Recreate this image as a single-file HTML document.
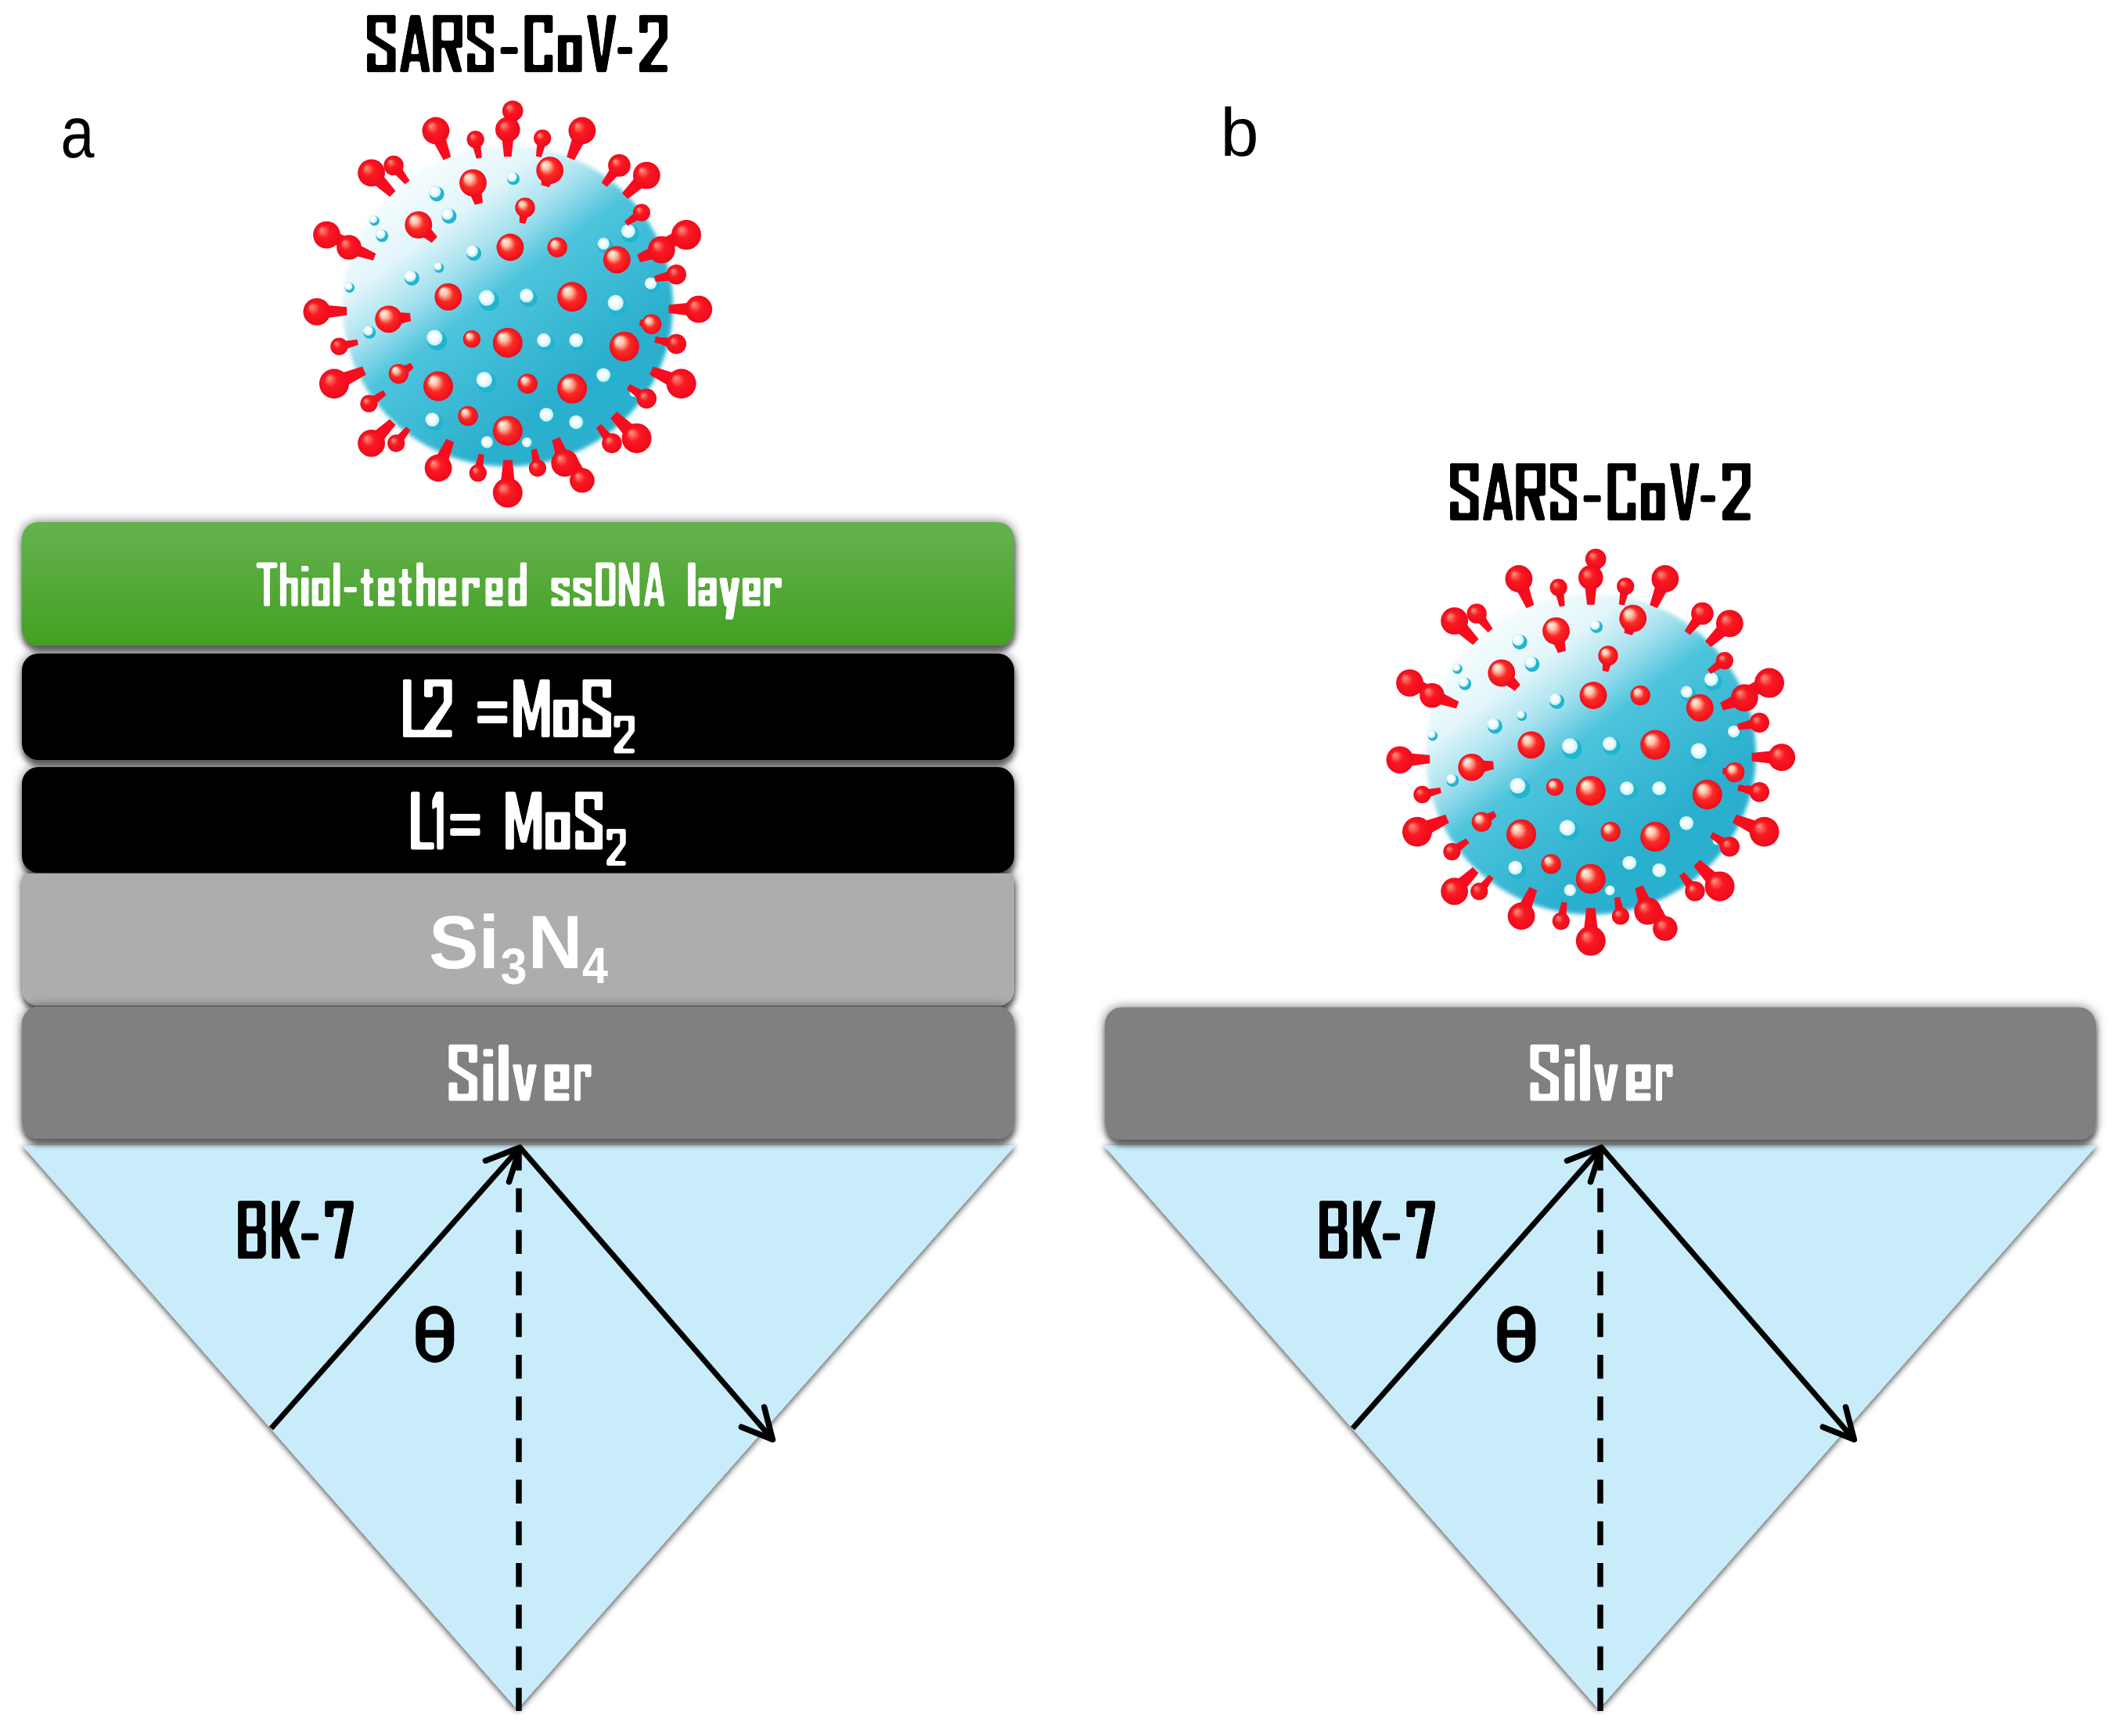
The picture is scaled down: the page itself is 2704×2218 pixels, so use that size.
<!DOCTYPE html>
<html><head><meta charset="utf-8"><style>
html,body{margin:0;padding:0;background:#fff;width:2704px;height:2218px;overflow:hidden}
svg{display:block}
text{font-family:"Liberation Sans",sans-serif}
</style></head><body>
<svg width="2704" height="2218" viewBox="0 0 2704 2218">
<defs>
<filter id="sh" x="-5%" y="-40%" width="110%" height="180%">
 <feGaussianBlur in="SourceAlpha" stdDeviation="7" result="a"/>
 <feComponentTransfer in="a" result="a2"><feFuncA type="linear" slope="0.55"/></feComponentTransfer>
 <feGaussianBlur in="SourceAlpha" stdDeviation="3" result="b"/>
 <feOffset in="b" dx="1" dy="8" result="b1"/>
 <feComponentTransfer in="b1" result="b2"><feFuncA type="linear" slope="0.5"/></feComponentTransfer>
 <feMerge><feMergeNode in="a2"/><feMergeNode in="b2"/><feMergeNode in="SourceGraphic"/></feMerge>
</filter>
<filter id="shp" x="-5%" y="-5%" width="110%" height="110%">
 <feGaussianBlur in="SourceAlpha" stdDeviation="4"/>
 <feOffset dx="0" dy="2" result="b"/>
 <feComponentTransfer><feFuncA type="linear" slope="0.8"/></feComponentTransfer>
 <feMerge><feMergeNode/><feMergeNode in="SourceGraphic"/></feMerge>
</filter>
<linearGradient id="green" x1="0" y1="0" x2="0" y2="1">
 <stop offset="0" stop-color="#66b24f"/><stop offset="1" stop-color="#43a022"/>
</linearGradient>
<linearGradient id="vbody" x1="0.2" y1="0.1" x2="0.69" y2="0.73">
 <stop offset="0" stop-color="#f6fcfe"/><stop offset="0.22" stop-color="#e2f6fa"/>
 <stop offset="0.4" stop-color="#a3e0ee"/><stop offset="0.56" stop-color="#4ec4dc"/><stop offset="1" stop-color="#2cb0ce"/>
</linearGradient>
<radialGradient id="vbump" cx="0.5" cy="0.5" r="0.5" fx="0.35" fy="0.35">
 <stop offset="0" stop-color="#ffffff"/><stop offset="0.6" stop-color="#f2fcfe"/><stop offset="1" stop-color="#bfeef6"/>
</radialGradient>
<radialGradient id="vknob" cx="0.5" cy="0.5" r="0.5" fx="0.28" fy="0.25">
 <stop offset="0" stop-color="#fff8f2"/><stop offset="0.28" stop-color="#ffc2a8"/><stop offset="0.58" stop-color="#fa2a24"/><stop offset="1" stop-color="#f00a1c"/>
</radialGradient>
<radialGradient id="vknob2" cx="0.5" cy="0.5" r="0.5" fx="0.3" fy="0.3">
 <stop offset="0" stop-color="#ff9a80"/><stop offset="0.45" stop-color="#fa1822"/><stop offset="1" stop-color="#ee0a1c"/>
</radialGradient>
<filter id="rnd" x="-10%" y="-20%" width="120%" height="140%"><feGaussianBlur stdDeviation="1.2"/><feComponentTransfer><feFuncA type="linear" slope="4" intercept="-1.5"/></feComponentTransfer></filter>
<filter id="soft" x="-10%" y="-10%" width="120%" height="120%"><feGaussianBlur stdDeviation="2.5"/></filter>
<g id="virus">

<ellipse cx="649" cy="391" rx="211" ry="205" fill="url(#vbody)" filter="url(#soft)"/>
<circle cx="625" cy="384.4" r="12.7" fill="#1fb5d0"/>
<circle cx="622" cy="380.6" r="10.1" fill="url(#vbump)"/>
<circle cx="675.5" cy="381" r="11.1" fill="#1fb5d0"/>
<circle cx="672.9" cy="377.7" r="8.9" fill="url(#vbump)"/>
<circle cx="789.8" cy="390.7" r="12.7" fill="#1fb5d0"/>
<circle cx="786.7" cy="386.9" r="10.1" fill="url(#vbump)"/>
<circle cx="805.4" cy="298.6" r="11.1" fill="#1fb5d0"/>
<circle cx="802.8" cy="295.3" r="8.9" fill="url(#vbump)"/>
<circle cx="773.5" cy="314.2" r="9.5" fill="#1fb5d0"/>
<circle cx="771.3" cy="311.4" r="7.6" fill="url(#vbump)"/>
<circle cx="833.8" cy="364.9" r="9.5" fill="#1fb5d0"/>
<circle cx="831.5" cy="362.1" r="7.6" fill="url(#vbump)"/>
<circle cx="558.5" cy="435.1" r="12.7" fill="#1fb5d0"/>
<circle cx="555.4" cy="431.3" r="10.1" fill="url(#vbump)"/>
<circle cx="697.7" cy="438" r="11.1" fill="#1fb5d0"/>
<circle cx="695" cy="434.7" r="8.9" fill="url(#vbump)"/>
<circle cx="738.9" cy="438" r="11.1" fill="#1fb5d0"/>
<circle cx="736.2" cy="434.7" r="8.9" fill="url(#vbump)"/>
<circle cx="621.8" cy="489" r="12.7" fill="#1fb5d0"/>
<circle cx="618.8" cy="485.2" r="10.1" fill="url(#vbump)"/>
<circle cx="773.7" cy="482.4" r="11.1" fill="#1fb5d0"/>
<circle cx="771.1" cy="479.1" r="8.9" fill="url(#vbump)"/>
<circle cx="555.1" cy="539.4" r="11.1" fill="#1fb5d0"/>
<circle cx="552.4" cy="536.1" r="8.9" fill="url(#vbump)"/>
<circle cx="700.9" cy="533.1" r="11.1" fill="#1fb5d0"/>
<circle cx="698.2" cy="529.8" r="8.9" fill="url(#vbump)"/>
<circle cx="738.9" cy="542.6" r="11.1" fill="#1fb5d0"/>
<circle cx="736.2" cy="539.3" r="8.9" fill="url(#vbump)"/>
<circle cx="624.6" cy="567.7" r="9.5" fill="#1fb5d0"/>
<circle cx="622.3" cy="564.8" r="7.6" fill="url(#vbump)"/>
<circle cx="675.1" cy="567.5" r="7.9" fill="#1fb5d0"/>
<circle cx="673.2" cy="565.1" r="6.3" fill="url(#vbump)"/>
<circle cx="656.1" cy="228.4" r="7.9" fill="#1fb5d0"/>
<circle cx="654.2" cy="226" r="6.3" fill="url(#vbump)"/>
<circle cx="558.1" cy="247.7" r="9.5" fill="#1fb5d0"/>
<circle cx="555.8" cy="244.8" r="7.6" fill="url(#vbump)"/>
<circle cx="573.9" cy="276.2" r="9.5" fill="#1fb5d0"/>
<circle cx="571.6" cy="273.3" r="7.6" fill="url(#vbump)"/>
<circle cx="605.6" cy="323.7" r="9.5" fill="#1fb5d0"/>
<circle cx="603.3" cy="320.9" r="7.6" fill="url(#vbump)"/>
<circle cx="526.4" cy="355.4" r="9.5" fill="#1fb5d0"/>
<circle cx="524.1" cy="352.6" r="7.6" fill="url(#vbump)"/>
<circle cx="488.2" cy="301.3" r="7.9" fill="#1fb5d0"/>
<circle cx="486.3" cy="298.9" r="6.3" fill="url(#vbump)"/>
<circle cx="478.5" cy="282.1" r="6.3" fill="#1fb5d0"/>
<circle cx="477" cy="280.2" r="5.1" fill="url(#vbump)"/>
<circle cx="560.9" cy="342.3" r="6.3" fill="#1fb5d0"/>
<circle cx="559.4" cy="340.4" r="5.1" fill="url(#vbump)"/>
<circle cx="472.3" cy="424.9" r="7.9" fill="#1fb5d0"/>
<circle cx="470.4" cy="422.5" r="6.3" fill="url(#vbump)"/>
<circle cx="446.8" cy="367.6" r="6.3" fill="#1fb5d0"/>
<circle cx="445.3" cy="365.7" r="5.1" fill="url(#vbump)"/>
<circle cx="846" cy="437.3" r="6.3" fill="#1fb5d0"/>
<circle cx="844.5" cy="435.4" r="5.1" fill="url(#vbump)"/>
<circle cx="811.2" cy="503.9" r="6.3" fill="#1fb5d0"/>
<circle cx="809.7" cy="502" r="5.1" fill="url(#vbump)"/>
<polygon points="647.9,141.5 650.5,170.9 658.4,171.1 662.5,141.9" fill="#f80c1e"/>
<polygon points="640.1,165.5 644.1,200.3 653.6,200.3 657.5,165.4" fill="#f80c1e"/>
<polygon points="548.1,170.7 566.6,204.5 576.3,200.6 565.8,163.4" fill="#f80c1e"/>
<polygon points="735.1,163.3 724.2,200.4 733.9,204.4 752.7,170.7" fill="#f80c1e"/>
<polygon points="687.2,175.3 684.9,199.7 691.7,201.1 699.2,177.8" fill="#f80c1e"/>
<polygon points="601.7,179.3 608.8,202.7 615.7,201.4 613.6,177" fill="#f80c1e"/>
<polygon points="497.6,215.8 517.6,235.5 523.5,230.7 508.5,207" fill="#f80c1e"/>
<polygon points="467.8,227.7 498.2,251.5 505.5,244.1 481.3,214.1" fill="#f80c1e"/>
<polygon points="595.2,236.2 606.9,261.8 617,259 613.7,231" fill="#f80c1e"/>
<polygon points="693.5,214.9 691.6,236.2 701.6,239.3 711.9,220.5" fill="#f80c1e"/>
<polygon points="785.2,206.6 768.7,233.4 775.4,238.7 797.6,216.2" fill="#f80c1e"/>
<polygon points="819.7,217.1 794.9,246.7 802.1,254.3 832.9,231" fill="#f80c1e"/>
<polygon points="664.1,264.1 663.8,284.6 671.3,285.9 677.9,266.4" fill="#f80c1e"/>
<polygon points="528.3,294.5 551.7,310.2 558.8,302.5 541.3,280.4" fill="#f80c1e"/>
<polygon points="816.4,266.6 798,282.9 802.1,288.6 823.5,276.6" fill="#f80c1e"/>
<polygon points="873,290.4 836.1,310.6 840.4,321.2 880.9,309.8" fill="#f80c1e"/>
<polygon points="414,309 451.2,319.2 455.1,309.5 421.1,291.2" fill="#f80c1e"/>
<polygon points="443,324.1 476.9,332.8 480.3,323.9 449.1,307.8" fill="#f80c1e"/>
<polygon points="841.9,310.2 814.2,325.2 817.9,335 848.7,328.1" fill="#f80c1e"/>
<polygon points="863,344 836.2,352.4 837.7,359.9 865.6,357.7" fill="#f80c1e"/>
<polygon points="892.9,385.6 854.5,389.6 854.4,400.1 892.7,404.8" fill="#f80c1e"/>
<polygon points="405.1,407.9 443.3,402.7 443.1,392.3 404.6,388.8" fill="#f80c1e"/>
<polygon points="497.7,417.4 525,410.3 524,399.9 495.8,398.3" fill="#f80c1e"/>
<polygon points="833.4,407.3 817.9,408.7 817.1,416.2 831.8,421.1" fill="#f80c1e"/>
<polygon points="865.8,432.7 837.8,429.9 836.2,437.4 862.8,446.3" fill="#f80c1e"/>
<polygon points="434.7,448.6 457.9,440.6 456.4,433.8 432,436.8" fill="#f80c1e"/>
<polygon points="513,483.5 528.7,470.3 524.8,463.8 505.8,471.6" fill="#f80c1e"/>
<polygon points="431.2,499.8 467.6,478.7 463.1,468.2 422.8,480.7" fill="#f80c1e"/>
<polygon points="874.8,480.7 834.6,468.2 830,478.6 866.4,499.8" fill="#f80c1e"/>
<polygon points="830.1,503.4 805,490.8 800.9,497.1 822.5,515.1" fill="#f80c1e"/>
<polygon points="474.9,520.6 493.5,504.6 489.5,498.8 467.9,510.6" fill="#f80c1e"/>
<polygon points="481.3,573.1 505.4,543 498.1,535.5 467.8,559.5" fill="#f80c1e"/>
<polygon points="511,570.2 524.5,549.7 519.1,545.2 501.5,562.4" fill="#f80c1e"/>
<polygon points="821,552.6 788.3,526.1 780.2,534.2 806.2,567.3" fill="#f80c1e"/>
<polygon points="787.4,562 768,541.8 761.9,546.5 776.4,570.5" fill="#f80c1e"/>
<polygon points="568.9,601.8 580.2,564.9 570.6,560.7 551.3,594.1" fill="#f80c1e"/>
<polygon points="616.8,605.4 618.6,580.9 611.7,579.7 604.8,603.2" fill="#f80c1e"/>
<polygon points="692.9,596.9 685.9,573.3 679,574.6 680.9,599.1" fill="#f80c1e"/>
<polygon points="730.7,588.3 715.3,558.8 705.5,562.4 712.7,594.9" fill="#f80c1e"/>
<polygon points="751.9,610.4 734.5,579.9 725.8,583.7 735.9,617.2" fill="#f80c1e"/>
<polygon points="659.3,629.7 654.6,587.8 643.2,587.8 638.4,629.6" fill="#f80c1e"/>
<circle cx="655.2" cy="141.7" r="13.3" fill="url(#vknob2)"/>
<circle cx="648.8" cy="165.4" r="15.8" fill="url(#vknob2)"/>
<circle cx="556.9" cy="167" r="17.4" fill="url(#vknob2)"/>
<circle cx="743.9" cy="167" r="17.4" fill="url(#vknob2)"/>
<circle cx="693.2" cy="176.5" r="11.1" fill="url(#vknob2)"/>
<circle cx="607.6" cy="178.1" r="11.1" fill="url(#vknob2)"/>
<circle cx="503.1" cy="211.4" r="12.7" fill="url(#vknob2)"/>
<circle cx="474.6" cy="220.9" r="17.4" fill="url(#vknob2)"/>
<circle cx="604.5" cy="233.6" r="17.4" fill="url(#vknob)"/>
<circle cx="702.7" cy="217.7" r="17.4" fill="url(#vknob)"/>
<circle cx="791.4" cy="211.4" r="14.3" fill="url(#vknob2)"/>
<circle cx="826.3" cy="224.1" r="17.4" fill="url(#vknob2)"/>
<circle cx="671" cy="265.3" r="12.7" fill="url(#vknob)"/>
<circle cx="534.8" cy="287.4" r="17.4" fill="url(#vknob)"/>
<circle cx="819.9" cy="271.6" r="11.1" fill="url(#vknob2)"/>
<circle cx="877" cy="300.1" r="19" fill="url(#vknob2)"/>
<circle cx="417.5" cy="300.1" r="17.4" fill="url(#vknob2)"/>
<circle cx="446" cy="316" r="15.8" fill="url(#vknob2)"/>
<circle cx="652" cy="316" r="17.4" fill="url(#vknob)"/>
<circle cx="712.2" cy="316" r="12.7" fill="url(#vknob)"/>
<circle cx="788.3" cy="331.8" r="17.4" fill="url(#vknob)"/>
<circle cx="845.3" cy="319.1" r="17.4" fill="url(#vknob2)"/>
<circle cx="864.3" cy="350.8" r="12.7" fill="url(#vknob2)"/>
<circle cx="572.8" cy="379.3" r="17.4" fill="url(#vknob)"/>
<circle cx="731.2" cy="379.3" r="19" fill="url(#vknob)"/>
<circle cx="892.8" cy="395.2" r="17.4" fill="url(#vknob2)"/>
<circle cx="404.9" cy="398.3" r="17.4" fill="url(#vknob2)"/>
<circle cx="496.7" cy="407.8" r="17.4" fill="url(#vknob)"/>
<circle cx="832.6" cy="414.2" r="12.7" fill="url(#vknob)"/>
<circle cx="648.8" cy="437.9" r="19" fill="url(#vknob)"/>
<circle cx="602.9" cy="433.2" r="11.1" fill="url(#vknob)"/>
<circle cx="797.8" cy="442.7" r="19" fill="url(#vknob)"/>
<circle cx="864.3" cy="439.5" r="12.7" fill="url(#vknob2)"/>
<circle cx="433.4" cy="442.7" r="11.1" fill="url(#vknob2)"/>
<circle cx="509.4" cy="477.6" r="12.7" fill="url(#vknob)"/>
<circle cx="560.1" cy="493.4" r="19" fill="url(#vknob)"/>
<circle cx="674.2" cy="490.2" r="12.7" fill="url(#vknob)"/>
<circle cx="731.2" cy="496.6" r="19" fill="url(#vknob)"/>
<circle cx="427" cy="490.2" r="19" fill="url(#vknob2)"/>
<circle cx="870.6" cy="490.2" r="19" fill="url(#vknob2)"/>
<circle cx="826.3" cy="509.2" r="12.7" fill="url(#vknob2)"/>
<circle cx="471.4" cy="515.6" r="11.1" fill="url(#vknob2)"/>
<circle cx="598.1" cy="531.4" r="12.7" fill="url(#vknob)"/>
<circle cx="648.8" cy="550.4" r="19" fill="url(#vknob)"/>
<circle cx="474.6" cy="566.3" r="17.4" fill="url(#vknob2)"/>
<circle cx="506.2" cy="566.3" r="11.1" fill="url(#vknob2)"/>
<circle cx="813.6" cy="559.9" r="19" fill="url(#vknob2)"/>
<circle cx="781.9" cy="566.3" r="12.7" fill="url(#vknob2)"/>
<circle cx="560.1" cy="598" r="17.4" fill="url(#vknob2)"/>
<circle cx="610.8" cy="604.3" r="11.1" fill="url(#vknob2)"/>
<circle cx="686.9" cy="598" r="11.1" fill="url(#vknob2)"/>
<circle cx="721.7" cy="591.6" r="17.4" fill="url(#vknob2)"/>
<circle cx="743.9" cy="613.8" r="15.8" fill="url(#vknob2)"/>
<circle cx="648.8" cy="629.6" r="19" fill="url(#vknob2)"/>
</g>
</defs>
<g id="vgroup">
<use href="#virus"/>
<g filter="url(#rnd)"><path transform="matrix(0.76 0 0 0.73 469.1 19.3)" d="M0,0 L48,0 L48,32 L33.5,32 L33.5,12.7 L14.5,12.7 L14.5,36 L48,58 L48,100 L0,100 L0,67 L14.5,67 L14.5,87.3 L33.5,87.3 L33.5,64 L0,42 Z" fill="#000" fill-rule="evenodd"/>
<path transform="matrix(0.75 0 0 0.73 510.7 19.3)" d="M0,100 L18,0 L35,0 L52,100 L37.5,100 L34.5,81 L17.5,81 L14.5,100 Z M19,68.3 L33,68.3 L26.5,26 Z" fill="#000" fill-rule="evenodd"/>
<path transform="matrix(0.75 0 0 0.73 553.3 19.3)" d="M0,0 L50,0 L50,57 L39,57 L50,100 L34.5,100 L20,57 L14.5,57 L14.5,100 L0,100 Z M14.5,12.7 L35.5,12.7 L35.5,44.3 L14.5,44.3 Z" fill="#000" fill-rule="evenodd"/>
<path transform="matrix(0.71 0 0 0.73 597 19.3)" d="M0,0 L48,0 L48,32 L33.5,32 L33.5,12.7 L14.5,12.7 L14.5,36 L48,58 L48,100 L0,100 L0,67 L14.5,67 L14.5,87.3 L33.5,87.3 L33.5,64 L0,42 Z" fill="#000" fill-rule="evenodd"/>
<path transform="matrix(0.76 0 0 0.73 639.6 19.3)" d="M0,56 L29,56 L29,68 L0,68 Z" fill="#000" fill-rule="evenodd"/>
<path transform="matrix(0.75 0 0 0.73 670.4 19.3)" d="M0,0 L48,0 L48,31 L33.5,31 L33.5,12.7 L14.5,12.7 L14.5,87.3 L33.5,87.3 L33.5,69 L48,69 L48,100 L0,100 Z" fill="#000" fill-rule="evenodd"/>
<path transform="matrix(0.77 0 0 0.73 712.8 19.3)" d="M0,35 L40,35 L40,100 L0,100 Z M14.5,47.7 L25.5,47.7 L25.5,87.3 L14.5,87.3 Z" fill="#000" fill-rule="evenodd"/>
<path transform="matrix(0.76 0 0 0.73 749.8 19.3)" d="M0,0 L15.5,0 L25,80 L34.5,0 L50,0 L33,100 L17,100 Z" fill="#000" fill-rule="evenodd"/>
<path transform="matrix(0.64 0 0 0.73 789.3 19.3)" d="M0,56 L29,56 L29,68 L0,68 Z" fill="#000" fill-rule="evenodd"/>
<path transform="matrix(0.75 0 0 0.73 816.8 19.3)" d="M0,0 L48,0 L48,42 L18.5,87.3 L48,87.3 L48,100 L0,100 L0,84.76 L33.5,40 L33.5,12.7 L14.5,12.7 L14.5,31 L0,31 Z" fill="#000" fill-rule="evenodd"/></g>
</g>
<g transform="translate(1384,572.5)"><use href="#vgroup"/></g>
<text x="77.5" y="200.5" font-size="92" font-weight="normal" fill="#000" textLength="43" lengthAdjust="spacingAndGlyphs" >a</text>
<text x="1559.5" y="199.2" font-size="88" font-weight="normal" fill="#000" textLength="49" lengthAdjust="spacingAndGlyphs" >b</text>
<polygon points="28,1463 1298,1463 661,2184" fill="#c9ecfa" filter="url(#shp)"/>
<line x1="663" y1="1465" x2="663" y2="2186" stroke="#000" stroke-width="7.5" stroke-dasharray="30.5 22.7"/>
<line x1="346.5" y1="1825" x2="664.5" y2="1466" stroke="#000" stroke-width="7" />
<polyline points="620.5,1483 664.5,1466 650.5,1510" fill="none" stroke="#000" stroke-width="7.5" stroke-linecap="round" stroke-linejoin="round"/>
<line x1="664.5" y1="1466" x2="987.4" y2="1839.2" stroke="#000" stroke-width="7" />
<polyline points="976.6,1797.7 987.4,1839.2 947.4,1823.2" fill="none" stroke="#000" stroke-width="7.5" stroke-linecap="round" stroke-linejoin="round"/>
<polygon points="1410,1463 2680,1463 2043,2184" fill="#c9ecfa" filter="url(#shp)"/>
<line x1="2045" y1="1465" x2="2045" y2="2186" stroke="#000" stroke-width="7.5" stroke-dasharray="30.5 22.7"/>
<line x1="1728.5" y1="1825" x2="2046.5" y2="1466" stroke="#000" stroke-width="7" />
<polyline points="2002.5,1483 2046.5,1466 2032.5,1510" fill="none" stroke="#000" stroke-width="7.5" stroke-linecap="round" stroke-linejoin="round"/>
<line x1="2046.5" y1="1466" x2="2369.4" y2="1839.2" stroke="#000" stroke-width="7" />
<polyline points="2358.6,1797.7 2369.4,1839.2 2329.4,1823.2" fill="none" stroke="#000" stroke-width="7.5" stroke-linecap="round" stroke-linejoin="round"/>
<rect x="28" y="667" width="1268" height="158" rx="21" ry="21" fill="url(#green)" filter="url(#sh)"/>
<rect x="28" y="835" width="1268" height="136" rx="21" ry="21" fill="#000" filter="url(#sh)"/>
<rect x="28" y="980" width="1268" height="135" rx="21" ry="21" fill="#000" filter="url(#sh)"/>
<path d="M34,1116 H1290 A6,6 0 0 1 1296,1122 V1264 A21,21 0 0 1 1275,1285 H49 A21,21 0 0 1 28,1264 V1122 A6,6 0 0 1 34,1116 Z" fill="#adadad" filter="url(#sh)"/>
<rect x="28" y="1286" width="1268" height="169" rx="21" ry="21" fill="#808080" filter="url(#sh)"/>
<rect x="1412" y="1287" width="1266" height="169" rx="21" ry="21" fill="#808080" filter="url(#sh)"/>
<g filter="url(#rnd)"><path transform="matrix(0.56 0 0 0.56 327.6 718.6)" d="M0,0 L48,0 L48,12.7 L31.25,12.7 L31.25,100 L16.75,100 L16.75,12.7 L0,12.7 Z" fill="#fff" fill-rule="evenodd"/>
<path transform="matrix(0.57 0 0 0.56 357.8 718.6)" d="M0,0 L14.5,0 L14.5,35 L40,35 L40,100 L25.5,100 L25.5,47.7 L14.5,47.7 L14.5,100 L0,100 Z" fill="#fff" fill-rule="evenodd"/>
<path transform="matrix(0.56 0 0 0.56 385 718.6)" d="M0,8 L17,8 L17,21 L0,21 Z M0,34 L17,34 L17,100 L0,100 Z" fill="#fff" fill-rule="evenodd"/>
<path transform="matrix(0.57 0 0 0.56 398.6 718.6)" d="M0,35 L40,35 L40,100 L0,100 Z M14.5,47.7 L25.5,47.7 L25.5,87.3 L14.5,87.3 Z" fill="#fff" fill-rule="evenodd"/>
<path transform="matrix(0.51 0 0 0.56 425.9 718.6)" d="M0,0 L17,0 L17,100 L0,100 Z" fill="#fff" fill-rule="evenodd"/>
<path transform="matrix(0.57 0 0 0.56 439.5 718.6)" d="M0,56 L29,56 L29,68 L0,68 Z" fill="#fff" fill-rule="evenodd"/>
<path transform="matrix(0.51 0 0 0.56 460.8 718.6)" d="M8,15 L22.5,15 L22.5,35 L32,35 L32,47.7 L22.5,47.7 L22.5,87.3 L32,87.3 L32,100 L8,100 L8,47.7 L0,47.7 L0,35 L8,35 Z" fill="#fff" fill-rule="evenodd"/>
<path transform="matrix(0.53 0 0 0.56 483.1 718.6)" d="M0,35 L40,35 L40,79 L14.5,79 L14.5,86 L40,86 L40,100 L0,100 Z M14.5,47.7 L25.5,47.7 L25.5,66 L14.5,66 Z" fill="#fff" fill-rule="evenodd"/>
<path transform="matrix(0.52 0 0 0.56 509.6 718.6)" d="M8,15 L22.5,15 L22.5,35 L32,35 L32,47.7 L22.5,47.7 L22.5,87.3 L32,87.3 L32,100 L8,100 L8,47.7 L0,47.7 L0,35 L8,35 Z" fill="#fff" fill-rule="evenodd"/>
<path transform="matrix(0.59 0 0 0.56 532.2 718.6)" d="M0,0 L14.5,0 L14.5,35 L40,35 L40,100 L25.5,100 L25.5,47.7 L14.5,47.7 L14.5,100 L0,100 Z" fill="#fff" fill-rule="evenodd"/>
<path transform="matrix(0.57 0 0 0.56 560 718.6)" d="M0,35 L40,35 L40,79 L14.5,79 L14.5,86 L40,86 L40,100 L0,100 Z M14.5,47.7 L25.5,47.7 L25.5,66 L14.5,66 Z" fill="#fff" fill-rule="evenodd"/>
<path transform="matrix(0.56 0 0 0.56 590.6 718.6)" d="M0,35 L40,35 L40,58 L25.5,58 L25.5,47.7 L14.5,47.7 L14.5,100 L0,100 Z" fill="#fff" fill-rule="evenodd"/>
<path transform="matrix(0.55 0 0 0.56 620.5 718.6)" d="M0,35 L40,35 L40,79 L14.5,79 L14.5,86 L40,86 L40,100 L0,100 Z M14.5,47.7 L25.5,47.7 L25.5,66 L14.5,66 Z" fill="#fff" fill-rule="evenodd"/>
<path transform="matrix(0.59 0 0 0.56 649.6 718.6)" d="M25.5,0 L40,0 L40,100 L0,100 L0,35 L25.5,35 Z M14.5,47.7 L25.5,47.7 L25.5,87.3 L14.5,87.3 Z" fill="#fff" fill-rule="evenodd"/>
<path transform="matrix(0.59 0 0 0.56 704.5 718.6)" d="M0,35 L40,35 L40,55 L25.5,55 L25.5,47.7 L14.5,47.7 L14.5,57 L40,70 L40,100 L0,100 L0,80 L14.5,80 L14.5,87.3 L25.5,87.3 L25.5,78 L0,65 Z" fill="#fff" fill-rule="evenodd"/>
<path transform="matrix(0.59 0 0 0.56 732.5 718.6)" d="M0,35 L40,35 L40,55 L25.5,55 L25.5,47.7 L14.5,47.7 L14.5,57 L40,70 L40,100 L0,100 L0,80 L14.5,80 L14.5,87.3 L25.5,87.3 L25.5,78 L0,65 Z" fill="#fff" fill-rule="evenodd"/>
<path transform="matrix(0.55 0 0 0.56 761.2 718.6)" d="M0,0 L40,0 L46,6 L46,94 L40,100 L0,100 Z M14.5,12.7 L31.5,12.7 L31.5,87.3 L14.5,87.3 Z" fill="#fff" fill-rule="evenodd"/>
<path transform="matrix(0.58 0 0 0.56 790.7 718.6)" d="M0,0 L14.5,0 L31.5,62 L31.5,0 L46,0 L46,100 L31.5,100 L14.5,38 L14.5,100 L0,100 Z" fill="#fff" fill-rule="evenodd"/>
<path transform="matrix(0.52 0 0 0.56 822.5 718.6)" d="M0,100 L18,0 L35,0 L52,100 L37.5,100 L34.5,81 L17.5,81 L14.5,100 Z M19,68.3 L33,68.3 L26.5,26 Z" fill="#fff" fill-rule="evenodd"/>
<path transform="matrix(0.58 0 0 0.56 878.9 718.6)" d="M0,0 L17,0 L17,100 L0,100 Z" fill="#fff" fill-rule="evenodd"/>
<path transform="matrix(0.58 0 0 0.56 892.5 718.6)" d="M0,35 L40,35 L40,100 L0,100 L0,63 L25.5,63 L25.5,47.7 L14.5,47.7 L14.5,56 L0,56 Z M14.5,75.7 L25.5,75.7 L25.5,87.3 L14.5,87.3 Z" fill="#fff" fill-rule="evenodd"/>
<path transform="matrix(0.66 0 0 0.56 919 718.6)" d="M0,35 L15,35 L20,78 L25,35 L40,35 L27,130 L12,130 L15,100 L10,100 Z" fill="#fff" fill-rule="evenodd"/>
<path transform="matrix(0.57 0 0 0.56 948.8 718.6)" d="M0,35 L40,35 L40,79 L14.5,79 L14.5,86 L40,86 L40,100 L0,100 Z M14.5,47.7 L25.5,47.7 L25.5,66 L14.5,66 Z" fill="#fff" fill-rule="evenodd"/>
<path transform="matrix(0.58 0 0 0.56 975.7 718.6)" d="M0,35 L40,35 L40,58 L25.5,58 L25.5,47.7 L14.5,47.7 L14.5,100 L0,100 Z" fill="#fff" fill-rule="evenodd"/></g>
<g filter="url(#rnd)"><path transform="matrix(0.74 0 0 0.74 514.9 867.9)" d="M0,0 L14.5,0 L14.5,87.3 L38,87.3 L38,100 L0,100 Z" fill="#fff" fill-rule="evenodd"/>
<path transform="matrix(0.74 0 0 0.74 542.1 867.9)" d="M0,0 L48,0 L48,42 L18.5,87.3 L48,87.3 L48,100 L0,100 L0,84.76 L33.5,40 L33.5,12.7 L14.5,12.7 L14.5,31 L0,31 Z" fill="#fff" fill-rule="evenodd"/>
<path transform="matrix(0.75 0 0 0.74 610.1 867.9)" d="M0,38 L51,38 L51,50 L0,50 Z M0,63 L51,63 L51,76 L0,76 Z" fill="#fff" fill-rule="evenodd"/>
<path transform="matrix(0.75 0 0 0.74 656.1 867.9)" d="M0,0 L17,0 L31,62 L45,0 L62,0 L62,100 L47.5,100 L47.5,38 L36,88 L26,88 L14.5,38 L14.5,100 L0,100 Z" fill="#fff" fill-rule="evenodd"/>
<path transform="matrix(0.79 0 0 0.74 707.1 867.9)" d="M0,35 L40,35 L40,100 L0,100 Z M14.5,47.7 L25.5,47.7 L25.5,87.3 L14.5,87.3 Z" fill="#fff" fill-rule="evenodd"/>
<path transform="matrix(0.76 0 0 0.74 744.5 867.9)" d="M0,0 L48,0 L48,32 L33.5,32 L33.5,12.7 L14.5,12.7 L14.5,36 L48,58 L48,100 L0,100 L0,67 L14.5,67 L14.5,87.3 L33.5,87.3 L33.5,64 L0,42 Z" fill="#fff" fill-rule="evenodd"/></g>
<g filter="url(#rnd)"><path transform="matrix(0.55 0 0 0.48 784.5 914.6)" d="M0,0 L48,0 L48,42 L18.5,87.3 L48,87.3 L48,100 L0,100 L0,84.76 L33.5,40 L33.5,12.7 L14.5,12.7 L14.5,31 L0,31 Z" fill="#fff" fill-rule="evenodd"/></g>
<g filter="url(#rnd)"><path transform="matrix(0.78 0 0 0.74 525.1 1011.6)" d="M0,0 L14.5,0 L14.5,87.3 L38,87.3 L38,100 L0,100 Z" fill="#fff" fill-rule="evenodd"/>
<path transform="matrix(0.6 0 0 0.74 552.3 1011.6)" d="M8,0 L24,0 L24,100 L10,100 L10,25 L0,32 L0,14 Z" fill="#fff" fill-rule="evenodd"/>
<path transform="matrix(0.75 0 0 0.74 575.3 1011.6)" d="M0,38 L51,38 L51,50 L0,50 Z M0,63 L51,63 L51,76 L0,76 Z" fill="#fff" fill-rule="evenodd"/>
<path transform="matrix(0.75 0 0 0.74 645.9 1011.6)" d="M0,0 L17,0 L31,62 L45,0 L62,0 L62,100 L47.5,100 L47.5,38 L36,88 L26,88 L14.5,38 L14.5,100 L0,100 Z" fill="#fff" fill-rule="evenodd"/>
<path transform="matrix(0.79 0 0 0.74 696.9 1011.6)" d="M0,35 L40,35 L40,100 L0,100 Z M14.5,47.7 L25.5,47.7 L25.5,87.3 L14.5,87.3 Z" fill="#fff" fill-rule="evenodd"/>
<path transform="matrix(0.73 0 0 0.74 735.2 1011.6)" d="M0,0 L48,0 L48,32 L33.5,32 L33.5,12.7 L14.5,12.7 L14.5,36 L48,58 L48,100 L0,100 L0,67 L14.5,67 L14.5,87.3 L33.5,87.3 L33.5,64 L0,42 Z" fill="#fff" fill-rule="evenodd"/></g>
<g filter="url(#rnd)"><path transform="matrix(0.51 0 0 0.47 775.2 1059)" d="M0,0 L48,0 L48,42 L18.5,87.3 L48,87.3 L48,100 L0,100 L0,84.76 L33.5,40 L33.5,12.7 L14.5,12.7 L14.5,31 L0,31 Z" fill="#fff" fill-rule="evenodd"/></g>
<text x="548" y="1237" font-size="96" font-weight="bold" fill="#fff" textLength="90" lengthAdjust="spacingAndGlyphs" >Si</text>
<text x="639.5" y="1257" font-size="64" font-weight="bold" fill="#fff" textLength="34" lengthAdjust="spacingAndGlyphs" >3</text>
<text x="674.5" y="1237" font-size="96" font-weight="bold" fill="#fff" textLength="70" lengthAdjust="spacingAndGlyphs" >N</text>
<text x="744" y="1256" font-size="64" font-weight="bold" fill="#fff" textLength="33" lengthAdjust="spacingAndGlyphs" >4</text>
<g transform="translate(0,0)">
<g filter="url(#rnd)"><path transform="matrix(0.76 0 0 0.72 573.4 1334.6)" d="M0,0 L48,0 L48,32 L33.5,32 L33.5,12.7 L14.5,12.7 L14.5,36 L48,58 L48,100 L0,100 L0,67 L14.5,67 L14.5,87.3 L33.5,87.3 L33.5,64 L0,42 Z" fill="#fff" fill-rule="evenodd"/>
<path transform="matrix(0.75 0 0 0.72 617.5 1334.6)" d="M0,8 L17,8 L17,21 L0,21 Z M0,34 L17,34 L17,100 L0,100 Z" fill="#fff" fill-rule="evenodd"/>
<path transform="matrix(0.75 0 0 0.72 637.1 1334.6)" d="M0,0 L17,0 L17,100 L0,100 Z" fill="#fff" fill-rule="evenodd"/>
<path transform="matrix(0.75 0 0 0.72 654.7 1334.6)" d="M0,35 L15,35 L21,82 L27,35 L42,35 L29,100 L13,100 Z" fill="#fff" fill-rule="evenodd"/>
<path transform="matrix(0.79 0 0 0.72 695.8 1334.6)" d="M0,35 L40,35 L40,79 L14.5,79 L14.5,86 L40,86 L40,100 L0,100 Z M14.5,47.7 L25.5,47.7 L25.5,66 L14.5,66 Z" fill="#fff" fill-rule="evenodd"/>
<path transform="matrix(0.54 0 0 0.72 734 1334.6)" d="M0,35 L40,35 L40,58 L25.5,58 L25.5,47.7 L14.5,47.7 L14.5,100 L0,100 Z" fill="#fff" fill-rule="evenodd"/></g>
<g filter="url(#rnd)"><path transform="matrix(0.74 0 0 0.74 304.2 1534.2)" d="M0,0 L40,0 L47,7 L47,42 L42,48 L48,54 L48,93 L41,100 L0,100 Z M14.5,12.7 L32.5,12.7 L32.5,44 L14.5,44 Z M14.5,56 L33.5,56 L33.5,87.3 L14.5,87.3 Z" fill="#000" fill-rule="evenodd"/>
<path transform="matrix(0.74 0 0 0.74 347.3 1534.2)" d="M0,0 L14.5,0 L14.5,44 L33,0 L50,0 L30,50 L50,100 L33,100 L14.5,56 L14.5,100 L0,100 Z" fill="#000" fill-rule="evenodd"/>
<path transform="matrix(0.76 0 0 0.74 385.1 1534.2)" d="M0,56 L29,56 L29,68 L0,68 Z" fill="#000" fill-rule="evenodd"/>
<path transform="matrix(0.76 0 0 0.74 415.3 1534.2)" d="M0,0 L48,0 L48,12.7 L31,100 L15.5,100 L32.5,12.7 L14.5,12.7 L14.5,28 L0,28 Z" fill="#000" fill-rule="evenodd"/></g>
<path transform="matrix(0.7 0 0 0.73 531.3 1668.2)" d="M35,0 H35 A35,38 0 0 1 70,38 V62 A35,38 0 0 1 35,100 H35 A35,38 0 0 1 0,62 V38 A35,38 0 0 1 35,0 Z M18,42.5 V29 A16.5,15 0 0 1 51,29 V42.5 Z M17.5,56 H51 V72 A16.75,15.5 0 0 1 17.5,72 Z" fill="#000" fill-rule="evenodd"/>
</g>
<g transform="translate(1382,0)">
<g filter="url(#rnd)"><path transform="matrix(0.76 0 0 0.72 573.4 1334.6)" d="M0,0 L48,0 L48,32 L33.5,32 L33.5,12.7 L14.5,12.7 L14.5,36 L48,58 L48,100 L0,100 L0,67 L14.5,67 L14.5,87.3 L33.5,87.3 L33.5,64 L0,42 Z" fill="#fff" fill-rule="evenodd"/>
<path transform="matrix(0.75 0 0 0.72 617.5 1334.6)" d="M0,8 L17,8 L17,21 L0,21 Z M0,34 L17,34 L17,100 L0,100 Z" fill="#fff" fill-rule="evenodd"/>
<path transform="matrix(0.75 0 0 0.72 637.1 1334.6)" d="M0,0 L17,0 L17,100 L0,100 Z" fill="#fff" fill-rule="evenodd"/>
<path transform="matrix(0.75 0 0 0.72 654.7 1334.6)" d="M0,35 L15,35 L21,82 L27,35 L42,35 L29,100 L13,100 Z" fill="#fff" fill-rule="evenodd"/>
<path transform="matrix(0.79 0 0 0.72 695.8 1334.6)" d="M0,35 L40,35 L40,79 L14.5,79 L14.5,86 L40,86 L40,100 L0,100 Z M14.5,47.7 L25.5,47.7 L25.5,66 L14.5,66 Z" fill="#fff" fill-rule="evenodd"/>
<path transform="matrix(0.54 0 0 0.72 734 1334.6)" d="M0,35 L40,35 L40,58 L25.5,58 L25.5,47.7 L14.5,47.7 L14.5,100 L0,100 Z" fill="#fff" fill-rule="evenodd"/></g>
<g filter="url(#rnd)"><path transform="matrix(0.74 0 0 0.74 304.2 1534.2)" d="M0,0 L40,0 L47,7 L47,42 L42,48 L48,54 L48,93 L41,100 L0,100 Z M14.5,12.7 L32.5,12.7 L32.5,44 L14.5,44 Z M14.5,56 L33.5,56 L33.5,87.3 L14.5,87.3 Z" fill="#000" fill-rule="evenodd"/>
<path transform="matrix(0.74 0 0 0.74 347.3 1534.2)" d="M0,0 L14.5,0 L14.5,44 L33,0 L50,0 L30,50 L50,100 L33,100 L14.5,56 L14.5,100 L0,100 Z" fill="#000" fill-rule="evenodd"/>
<path transform="matrix(0.76 0 0 0.74 385.1 1534.2)" d="M0,56 L29,56 L29,68 L0,68 Z" fill="#000" fill-rule="evenodd"/>
<path transform="matrix(0.76 0 0 0.74 415.3 1534.2)" d="M0,0 L48,0 L48,12.7 L31,100 L15.5,100 L32.5,12.7 L14.5,12.7 L14.5,28 L0,28 Z" fill="#000" fill-rule="evenodd"/></g>
<path transform="matrix(0.7 0 0 0.73 531.3 1668.2)" d="M35,0 H35 A35,38 0 0 1 70,38 V62 A35,38 0 0 1 35,100 H35 A35,38 0 0 1 0,62 V38 A35,38 0 0 1 35,0 Z M18,42.5 V29 A16.5,15 0 0 1 51,29 V42.5 Z M17.5,56 H51 V72 A16.75,15.5 0 0 1 17.5,72 Z" fill="#000" fill-rule="evenodd"/>
</g>
</svg>
</body></html>
